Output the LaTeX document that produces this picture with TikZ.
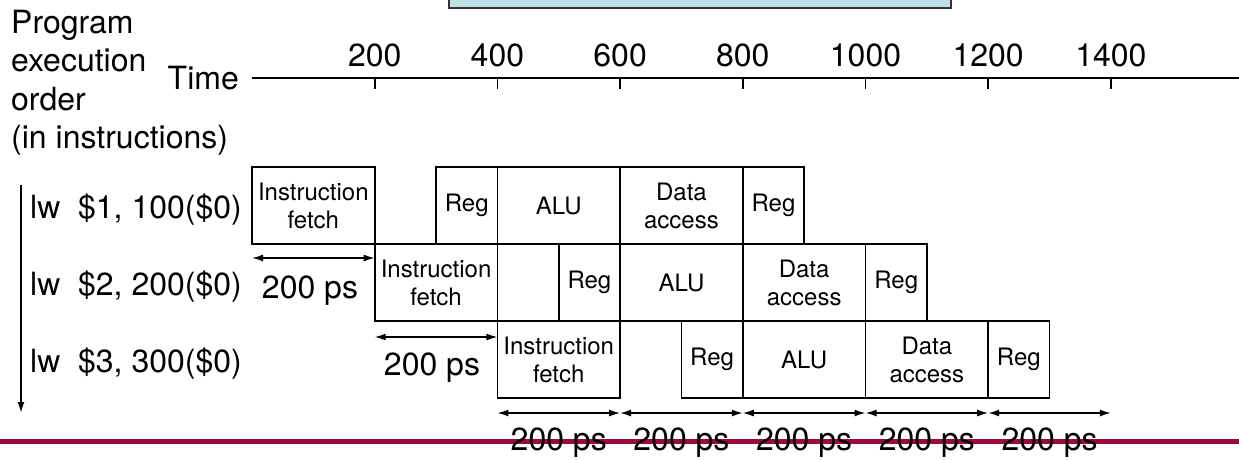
\documentclass[tikz,border=0pt]{standalone}
\usepackage{fontspec}
\setmainfont{TeX Gyre Heros}
\usetikzlibrary{arrows.meta}
\definecolor{rulered}{HTML}{9B0A3C}
\definecolor{paleblue}{HTML}{BCE0E3}

\begin{document}
\begin{tikzpicture}[x=1pt,y=-1pt,
 stage/.style={draw,line width=1.8pt,inner sep=0pt,outer sep=0pt,minimum height=77pt,
 anchor=north west,align=center,font=\fontsize{24}{28}\selectfont},
 lbl/.style={inner sep=0pt,font=\fontsize{32}{38.3}\selectfont},
 span/.style={{Latex[length=11pt,width=7pt]}-{Latex[length=11pt,width=7pt]},line width=1.5pt}]
\useasboundingbox (0,0) rectangle (1239,459);
\node[draw=black!80,fill=paleblue,line width=1.8pt,inner sep=0pt,minimum width=502pt,
 minimum height=40pt,anchor=south west] (banner) at (448,9) {};
\node[lbl,align=left,anchor=north west] (order) at (11,10) {Program\\execution\\order\\(in instructions)};
\node[lbl,anchor=east] (time) at (239,78) {Time};
\coordinate (axisend) at (1239,78);
\draw[line width=2.2pt] ([xshift=13pt]time.east) -- (axisend);
\foreach \t in {200,400,...,1400}{
 \coordinate (t\t) at ({252+0.6135*\t},78);
 \draw[line width=1.6pt] (t\t) -- ++(0,11);
 \node[lbl] (n\t) at ([yshift=23pt]t\t) {\t};
}
\foreach \r/\s in {1/0,2/200,3/400}{
 \pgfmathsetmacro\ytop{90+77*\r}
 \node[stage,minimum width=122.7pt] (if\r) at ({252+0.6135*\s},\ytop) {Instruction\\fetch};
 \node[stage,minimum width=61.35pt] (rr\r) at ({252+0.6135*(\s+300)},\ytop) {Reg};
 \node[stage,minimum width=122.7pt] (alu\r) at (rr\r.north east) {ALU};
 \node[stage,minimum width=122.7pt] (dm\r) at (alu\r.north east) {Data\\access};
 \node[stage,minimum width=61.35pt] (rw\r) at (dm\r.north east) {Reg};
 \node[lbl,anchor=east] (lw\r) at (242,{\ytop+43}) {lw\ \ \$\r, \r00(\$0)};
}
\coordinate (ordtop) at (21,185);
\coordinate (ordbot) at (21,413);
\draw[-{Latex[length=11pt,width=7pt]},line width=1.8pt] (ordtop) -- (ordbot);
\draw[span] ([yshift=-14pt]if1.south west) -- ([yshift=-14pt]if1.south east);
\node[lbl] (ps1) at (310,291) {200 ps};
\draw[span] ([yshift=-16pt]if2.south west) -- ([yshift=-16pt]if2.south east);
\node[lbl] (ps2) at (432,368) {200 ps};
\coordinate (rulel) at (0,441);
\coordinate (ruler) at (1239,441);
\draw[rulered,line width=5pt] (rulel) -- (ruler);
\foreach \t in {400,600,...,1400}
 \coordinate (b\t) at ({252+0.6135*\t},413);
\foreach \a/\b in {400/600,600/800,800/1000,1000/1200,1200/1400}{
 \draw[span] (b\a) -- (b\b);
 \node[lbl] (ps\a) at ({252+0.6135*(\a+100)},443) {200 ps};
}
\end{tikzpicture}
\end{document}
